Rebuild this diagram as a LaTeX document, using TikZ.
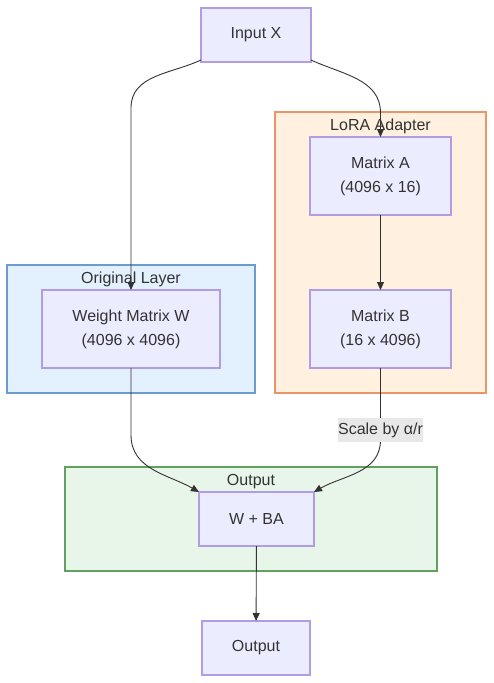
\documentclass[tikz,border=0pt]{standalone}
\usepackage{fontspec}
\setmainfont{Liberation Sans}
\usetikzlibrary{positioning,fit,calc,arrows.meta,backgrounds}
\definecolor{boxfill}{HTML}{ECECFF}
\definecolor{boxline}{HTML}{B29CE4}
\definecolor{ink}{HTML}{333333}
\definecolor{origfill}{HTML}{E3F0FD}
\definecolor{origline}{HTML}{6C9BD2}
\definecolor{lorafill}{HTML}{FFF0DF}
\definecolor{loraline}{HTML}{E8956A}
\definecolor{outfill}{HTML}{E8F5E9}
\definecolor{outline}{HTML}{62A062}
\definecolor{labelfill}{HTML}{E8E8E8}
\begin{document}
\begin{tikzpicture}[x=1pt,y=1pt]

              % Definitions
              \tikzstyle{Box} = [rectangle, fill=boxfill, draw=boxline, line width=1.1pt, outer sep=0pt, text=ink, align=center, font=\fontsize{16}{24}\selectfont, minimum width=141pt, minimum height=78pt]
              \tikzstyle{Cluster} = [rectangle, inner xsep=35pt, inner ysep=25pt, outer sep=0pt, line width=1.4pt]
              \tikzstyle{Title} = [text=ink, anchor=base, inner sep=0pt, font=\fontsize{16}{24}\selectfont]
              \tikzstyle{EdgeLabel} = [fill=labelfill, text=ink, inner sep=0pt, minimum height=24pt, font=\fontsize{16}{24}\selectfont]
              \tikzstyle{arrow} = [draw=ink, line width=0.9pt, -{Triangle[length=8pt,width=7pt]}]

              \useasboundingbox (0,0) rectangle (494,-683);

              \node (X) [Box, minimum width=110pt, minimum height=54pt] at (256,-35) {Input X};
              \node (A) [Box, below right=75pt and -1pt of X] {Matrix A\\(4096 x 16)};
              \node (B) [Box, below=75pt of A] {Matrix B\\(16 x 4096)};
              \node (W) [Box, minimum width=178pt, left=90pt of B] {Weight Matrix W\\(4096 x 4096)};
              \node (WBA) [Box, minimum width=115pt, minimum height=54pt, below=430pt of X, xshift=0.5pt] {W + BA};
              \node (Out) [Box, minimum width=108pt, minimum height=54pt, below=75pt of WBA, xshift=-0.5pt] {Output};

              \begin{scope}[on background layer]
                \node (Orig) [Cluster, fill=origfill, draw=origline, fit=(W)] {};
                \node (LoRA) [Cluster, fill=lorafill, draw=loraline, fit=(A) (B)] {};
                \node (OutGrp) [Cluster, fill=outfill, draw=outline, fit=(WBA), inner xsep=0pt, minimum width=372pt, xshift=-5.5pt] {};
              \end{scope}

              \node (OrigT) [Title] at ($(Orig.north)+(0,-18)$) {Original Layer};
              \node (LoRAT) [Title] at ($(LoRA.north)+(0,-18)$) {LoRA Adapter};
              \node (OutGrpT) [Title] at ($(OutGrp.north)+(0,-18)$) {Output};

              \draw [arrow] ([yshift=2pt]X.south west) to[out=205,in=90] ($(W.north)+(0,182)$) -- (W.north);
              \draw [arrow] ([yshift=2pt]X.south east) to[out=-25,in=90] ($(A.north)+(0,24)$) -- (A.north);
              \draw [arrow] (A) -- (B);
              \draw [arrow] (W.south) -- ($(W.south)+(0,-67)$) to[out=-90,in=150] (WBA.north west);
              \draw [arrow] (B.south) -- node[EdgeLabel, pos=0.86] {Scale by α/r} ($(B.south)+(0,-72)$) to[out=-90,in=30] (WBA.north east);
              \draw [arrow] (WBA) -- (Out);

            \end{tikzpicture}
\end{document}
